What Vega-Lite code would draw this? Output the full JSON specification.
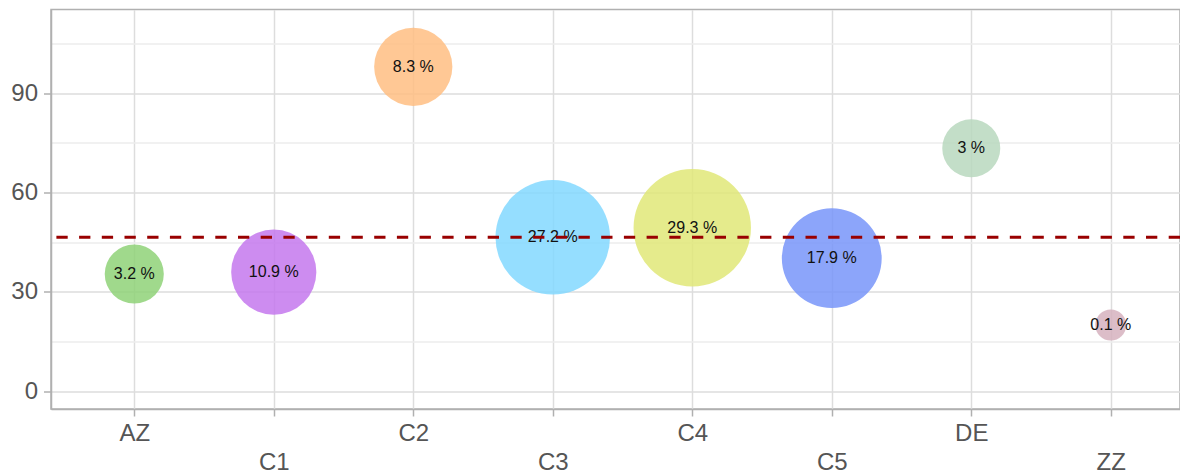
{
  "$schema": "https://vega.github.io/schema/vega-lite/v6.json",
  "width": 1129,
  "height": 399.5,
  "autosize": {"type": "none"},
  "padding": {"left": 51, "top": 9.5, "right": 0, "bottom": 62},
  "background": "white",
  "config": {
    "view": {"stroke": "#b0b0b0", "strokeWidth": 1.5},
    "axis": {
      "labelFont": "Liberation Sans",
      "labelFontSize": 24,
      "labelColor": "#555555",
      "domainColor": "#b0b0b0",
      "domainWidth": 1.5,
      "tickColor": "#b0b0b0",
      "tickWidth": 1.5,
      "gridColor": "#dddddd",
      "gridWidth": 1.5,
      "title": null
    }
  },
  "data": {
    "values": [
      {"code": "AZ", "y": 35.4, "share": 3.2, "label": "3.2 %"},
      {"code": "C1", "y": 36.0, "share": 10.9, "label": "10.9 %"},
      {"code": "C2", "y": 98.0, "share": 8.3, "label": "8.3 %"},
      {"code": "C3", "y": 46.5, "share": 27.2, "label": "27.2 %"},
      {"code": "C4", "y": 49.4, "share": 29.3, "label": "29.3 %"},
      {"code": "C5", "y": 40.2, "share": 17.9, "label": "17.9 %"},
      {"code": "DE", "y": 73.4, "share": 3, "label": "3 %"},
      {"code": "ZZ", "y": 20.0, "share": 0.1, "label": "0.1 %"}
    ]
  },
  "resolve": {"axis": {"y": "independent", "x": "independent"}},
  "layer": [
    {
      "mark": {"type": "circle", "opacity": 0.85, "stroke": null},
      "encoding": {
        "x": {
          "field": "code",
          "type": "nominal",
          "scale": {"type": "point", "domain": ["AZ", "C1", "C2", "C3", "C4", "C5", "DE", "ZZ"], "padding": 0.5466, "align": 0.546},
          "axis": {
            "grid": true,
            "tickSize": 7,
            "labelPadding": {"condition": {"test": "indexof(['C1','C3','C5','ZZ'], datum.value) >= 0", "value": 34}, "value": 5},
            "labelOverlap": false,
            "labelAngle": 0
          }
        },
        "y": {
          "field": "y",
          "type": "quantitative",
          "scale": {"domain": [-5.35, 115.3], "nice": false, "zero": false},
          "axis": {"values": [0, 30, 60, 90], "grid": true, "tickSize": 7.5, "labelPadding": 6}
        },
        "size": {
          "field": "share",
          "type": "quantitative",
          "scale": {"type": "pow", "exponent": 0.7, "domain": [0.1, 29.3], "range": [961, 13783], "zero": false},
          "legend": null
        },
        "color": {
          "field": "code",
          "type": "nominal",
          "scale": {
            "domain": ["AZ", "C1", "C2", "C3", "C4", "C5", "DE", "ZZ"],
            "range": ["#8fd278", "#c478ed", "#ffbe83", "#83d8ff", "#e1e778", "#7895f9", "#b8d8be", "#d6b2be"]
          },
          "legend": null
        }
      }
    },
    {
      "mark": {"type": "text", "font": "Liberation Sans", "fontSize": 16, "color": "#111111", "baseline": "middle", "align": "center"},
      "encoding": {
        "x": {"field": "code", "type": "nominal", "axis": null},
        "y": {"field": "y", "type": "quantitative", "axis": null},
        "text": {"field": "label", "type": "nominal"}
      }
    },
    {
      "data": {"values": [{"ref": 46.5}]},
      "mark": {"type": "rule", "color": "#990000", "strokeWidth": 3, "strokeDash": [11.3, 11.4]},
      "encoding": {
        "y": {
          "field": "ref",
          "type": "quantitative",
          "axis": {"orient": "right", "values": [15, 45, 75, 105], "grid": true, "gridColor": "#ececec", "labels": false, "ticks": false, "domain": false}
        }
      }
    }
  ]
}
